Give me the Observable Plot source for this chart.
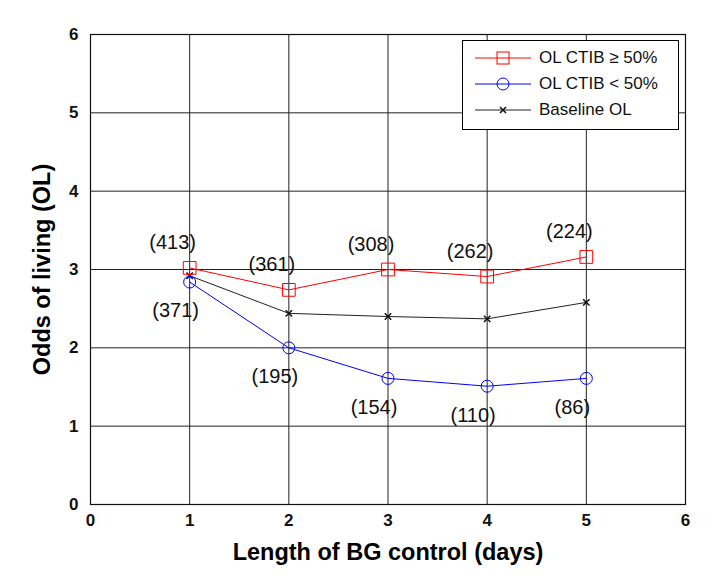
<!DOCTYPE html>
<html>
<head>
<meta charset="utf-8">
<script src="https://cdn.jsdelivr.net/npm/d3@7"></script>
<script src="https://cdn.jsdelivr.net/npm/@observablehq/plot@0.6"></script>
<style>
  body { margin: 0; background: #fff; font-family: "Liberation Sans", Arial, Helvetica, sans-serif; }
  #wrap { position: relative; width: 724px; height: 587px; }
  #legend { position: absolute; left: 462px; top: 40px; width: 217px; height: 90px; background: #fff; border: 1px solid #000; box-sizing: border-box; font-size: 17px; color: #111; }
  #legend .row { position: absolute; left: 0; height: 26px; display: flex; align-items: center; }
  #legend svg { margin-left: 12px; margin-right: 8px; }
</style>
</head>
<body>
<div id="wrap"></div>
<script>
const days = [1, 2, 3, 4, 5];
const olHigh = [3.02, 2.74, 3.00, 2.91, 3.16];
const olLow = [2.84, 2.00, 1.61, 1.51, 1.61];
const olBase = [2.92, 2.44, 2.40, 2.37, 2.58];
const nHigh = ["(413)", "(361)", "(308)", "(262)", "(224)"];
const nLow = ["(371)", "(195)", "(154)", "(110)", "(86)"];
const ticks = [0, 1, 2, 3, 4, 5, 6];
const seriesNames = ["OL CTIB \u2265 50%", "OL CTIB < 50%", "Baseline OL"];
const xLabel = "Length of BG control (days)";
const yLabel = "Odds of living (OL)";

const high = days.map((d, i) => ({x: d, y: olHigh[i], n: nHigh[i]}));
const low = days.map((d, i) => ({x: d, y: olLow[i], n: nLow[i]}));
const base = days.map((d, i) => ({x: d, y: olBase[i]}));

const chart = Plot.plot({
  width: 724,
  height: 587,
  marginLeft: 90,
  marginRight: 39,
  marginTop: 34,
  marginBottom: 83,
  style: {fontFamily: "'Liberation Sans', Arial, Helvetica, sans-serif", background: "#fff", overflow: "visible"},
  x: {domain: [0, 6]},
  y: {domain: [0, 6]},
  marks: [
    Plot.ruleX(ticks, {stroke: "#222", strokeWidth: 1}),
    Plot.ruleY(ticks, {stroke: "#222", strokeWidth: 1}),
    Plot.frame({stroke: "#111", strokeWidth: 1.2}),
    Plot.axisX({ticks: ticks, tickSize: 0, tickPadding: 9, tickFormat: d3.format("d"), fontSize: 17, fontWeight: "bold", fill: "#111", label: null}),
    Plot.axisY({ticks: ticks, tickSize: 0, tickPadding: 12, tickFormat: d3.format("d"), fontSize: 17, fontWeight: "bold", fill: "#111", label: null}),
    Plot.line(base, {x: "x", y: "y", stroke: "#222", strokeWidth: 1}),
    Plot.dot(base, {x: "x", y: "y", symbol: "times", r: 3, stroke: "#111", strokeWidth: 1.5}),
    Plot.line(high, {x: "x", y: "y", stroke: "#ff0000", strokeWidth: 1}),
    Plot.dot(high, {x: "x", y: "y", symbol: "square", r: 7.2, stroke: "#ff0000", strokeWidth: 1, fill: "none"}),
    Plot.line(low, {x: "x", y: "y", stroke: "#0000ff", strokeWidth: 1}),
    Plot.dot(low, {x: "x", y: "y", symbol: "circle", r: 6, stroke: "#0000ff", strokeWidth: 1, fill: "none"}),
    Plot.text(high, {x: "x", y: "y", text: "n", dx: -17, dy: -25, fontSize: 20, fill: "#111"}),
    Plot.text(low, {x: "x", y: "y", text: "n", dx: -14, dy: 29, fontSize: 20, fill: "#111"}),
    Plot.text([xLabel], {frameAnchor: "bottom", dy: 55, text: d => d, fontSize: 23.5, fontWeight: "bold", fill: "#000"}),
    Plot.text([yLabel], {frameAnchor: "left", dx: -48, rotate: -90, textAnchor: "middle", text: d => d, fontSize: 23.5, fontWeight: "bold", fill: "#000"})
  ]
});
document.getElementById("wrap").appendChild(chart);

const legend = document.createElement("div");
legend.id = "legend";
const samples = [
  `<line x1="0" y1="8" x2="56" y2="8" stroke="#ff0000"/><rect x="22" y="2" width="12" height="12" fill="none" stroke="#ff0000"/>`,
  `<line x1="0" y1="8" x2="56" y2="8" stroke="#0000ff"/><circle cx="28" cy="8" r="6" fill="none" stroke="#0000ff"/>`,
  `<line x1="0" y1="8" x2="56" y2="8" stroke="#222"/><path d="M25 5 L31 11 M31 5 L25 11" stroke="#111" stroke-width="1.5"/>`
];
seriesNames.forEach((name, i) => {
  const row = document.createElement("div");
  row.className = "row";
  row.style.top = (4 + i * 26) + "px";
  row.innerHTML = `<svg width="56" height="16">${samples[i]}</svg><span>${name}</span>`;
  legend.appendChild(row);
});
document.getElementById("wrap").appendChild(legend);
</script>
</body>
</html>
